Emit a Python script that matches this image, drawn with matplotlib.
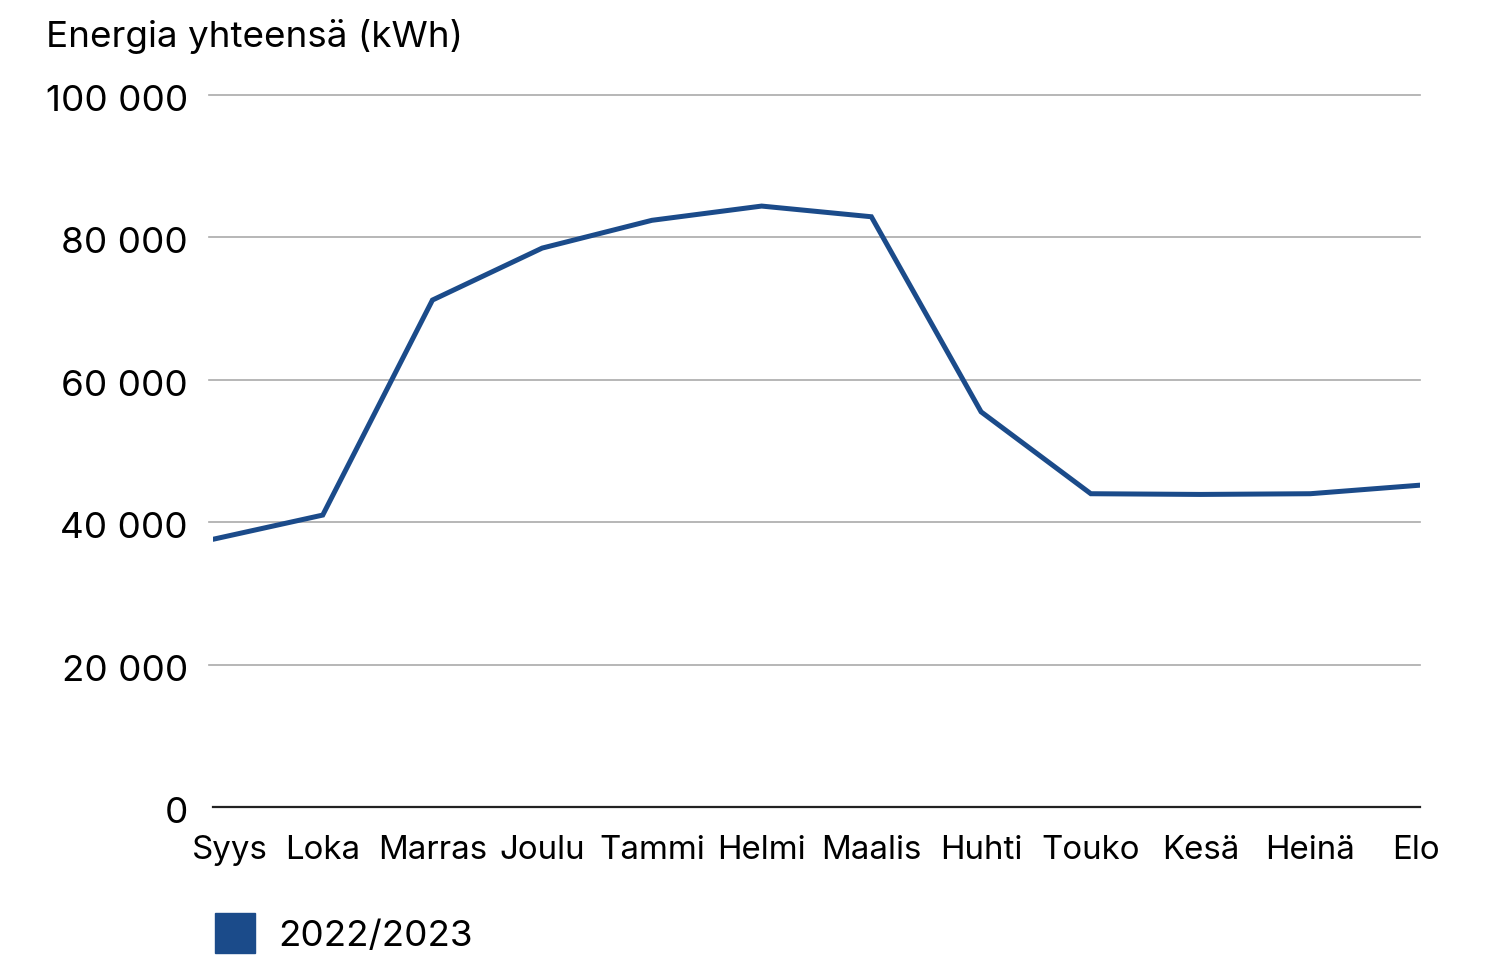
import matplotlib
matplotlib.use("Agg")
import matplotlib.pyplot as plt
from matplotlib.patches import Rectangle
from matplotlib.transforms import ScaledTranslation

months = ["Syys", "Loka", "Marras", "Joulu", "Tammi", "Helmi", "Maalis",
          "Huhti", "Touko", "Kesä", "Heinä", "Elo"]
energy = [37600, 41000, 71200, 78500, 82400, 84400, 82900,
          55500, 44000, 43900, 44000, 45200]
series_label = "2022/2023"
y_ticks = [0, 20000, 40000, 60000, 80000, 100000]
y_title = "Energia yhteensä (kWh)"

color = "#1b4b8a"
plt.rcParams['font.family'] = ['Inter', 'DejaVu Sans']
fs = 26.5

fig = plt.figure(figsize=(14.96, 9.55), dpi=100)
ax = fig.add_axes([213/1496, 1-807/955, (1420-213)/1496, (807-95)/955])

x = list(range(len(months)))
ax.plot(x, energy, color=color, lw=3.6, solid_capstyle='round', solid_joinstyle='miter', zorder=3)

ax.set_xlim(0, len(months)-1)
ax.set_ylim(0, 100000)
ax.set_yticks(y_ticks)
ax.set_yticklabels([f"{v:,}".replace(",", " ") for v in y_ticks])
ax.set_xticks(x)
ax.set_xticklabels(months)
ax.tick_params(axis='both', length=0, colors='black')
ax.tick_params(axis='y', pad=18, labelsize=fs)
ax.tick_params(axis='x', pad=20, labelsize=23.8)

labels = ax.get_xticklabels()
labels[0].set_transform(labels[0].get_transform() + ScaledTranslation(17/100, 0, fig.dpi_scale_trans))
labels[-1].set_transform(labels[-1].get_transform() + ScaledTranslation(-4/100, 0, fig.dpi_scale_trans))
for lab in ax.get_yticklabels():
    lab.set_transform(lab.get_transform() + ScaledTranslation(0, -3/100, fig.dpi_scale_trans))

for v in y_ticks[1:]:
    ax.axhline(v, color='#aaaaaa', lw=1.2, zorder=1, xmin=-0.003, clip_on=False)
for s in ['top', 'right', 'left']:
    ax.spines[s].set_visible(False)
ax.spines['bottom'].set_color('#222222')
ax.spines['bottom'].set_linewidth(1.6)

fig.text(46/1496, 1-36/955, y_title, fontsize=fs, va='center', ha='left')

fig.patches.append(Rectangle((215/1496, 1-953/955), 40/1496, 40/955,
                             transform=fig.transFigure, color=color))
fig.text(278/1496, 1-936/955, series_label, fontsize=fs, va='center', ha='left')

fig.savefig("out.png", dpi=100)
